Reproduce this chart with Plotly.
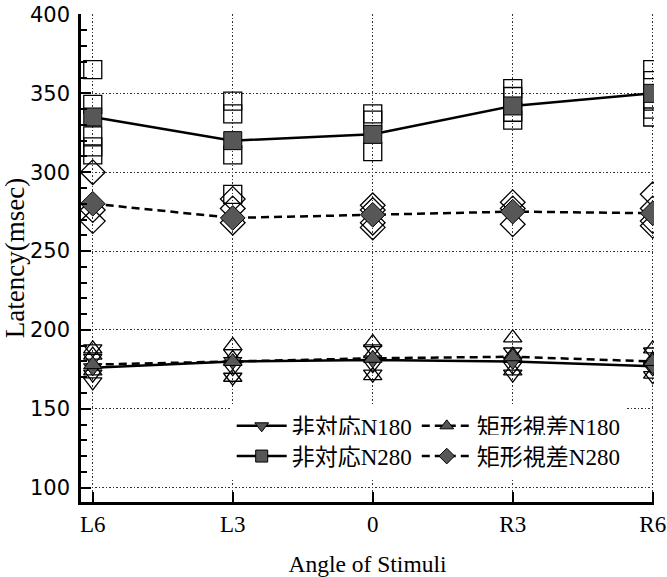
import plotly.graph_objects as go

# ---- data ----
categories = ["L6", "L3", "0", "R3", "R6"]

mean_hitaiou_n180 = [176, 180, 181, 180, 177]
mean_kukei_n180 = [178, 180, 182, 183, 180]
mean_hitaiou_n280 = [335, 320, 324, 342, 350]
mean_kukei_n280 = [280, 271, 273, 275, 274]

# individual (open) values per category
ind_hitaiou_n280 = [[365, 343, 323, 316, 311], [345, 337, 311, 286], [337, 333, 313],
                    [353, 348, 338, 333], [365, 358, 345, 340, 335]]
ind_kukei_n280 = [[300, 276, 269], [283, 277, 268], [279, 276, 268, 265],
                  [281, 277, 267], [286, 277, 269, 266]]
ind_hitaiou_n180 = [[188, 182, 172, 167], [185, 176, 170], [188, 178, 172],
                    [186, 177, 172], [186, 176, 171]]
ind_kukei_n180 = [[188, 184, 174], [190, 182, 170], [192, 185, 171],
                  [195, 184, 174], [188, 181, 172]]

names = ["非対応N180", "矩形視差N180", "非対応N280", "矩形視差N280"]
y_ticks = [100, 150, 200, 250, 300, 350, 400]

# ---- styles ----
FILL = "#575757"
SERIF = "Liberation Serif, Noto Sans CJK JP, serif"
DASH = "8px,5px"


def flatten(ind):
    xs, ys = [], []
    for c, vals in zip(categories, ind):
        for v in vals:
            xs.append(c)
            ys.append(v)
    return xs, ys


fig = go.Figure()

open_specs = [
    (ind_hitaiou_n280, "square-open", 18),
    (ind_kukei_n280, "diamond-open", 19),
    (ind_hitaiou_n180, "triangle-down-open", 16),
    (ind_kukei_n180, "triangle-up-open", 16),
]
for ind, sym, sz in open_specs:
    xs, ys = flatten(ind)
    fig.add_trace(go.Scatter(
        x=xs, y=ys, mode="markers", showlegend=False, hoverinfo="skip",
        marker=dict(symbol=sym, size=sz, color="black", line=dict(width=1.3, color="black")),
    ))

mean_specs = [
    (mean_hitaiou_n180, names[0], "triangle-down", "solid", 16),
    (mean_kukei_n180, names[1], "triangle-up", DASH, 16),
    (mean_hitaiou_n280, names[2], "square", "solid", 18),
    (mean_kukei_n280, names[3], "diamond", DASH, 19),
]
for vals, nm, sym, dash, sz in mean_specs:
    fig.add_trace(go.Scatter(
        x=categories, y=vals, mode="lines+markers", name=nm, showlegend=False,
        line=dict(color="black", width=2.5, dash=dash),
        marker=dict(symbol=sym, size=sz, color=FILL, line=dict(width=1, color="black")),
    ))

# legend entries: one legend box per entry, arranged 2 x 2
legend_ids = ["legend", "legend2", "legend3", "legend4"]
for (vals, nm, sym, dash, sz), lid in zip(mean_specs, legend_ids):
    fig.add_trace(go.Scatter(
        x=[None], y=[None], mode="lines+markers", name=nm, legend=lid,
        line=dict(color="black", width=2.5, dash=dash),
        marker=dict(symbol=sym, size=12, color=FILL, line=dict(width=1, color="black")),
    ))

col_x = [0.263, 0.586]
row_y = [0.156, 0.094]
legend_layouts = {}
for i, lid in enumerate(legend_ids):
    legend_layouts[lid] = dict(
        x=col_x[i % 2], y=row_y[i // 2], xanchor="left", yanchor="middle",
        bgcolor="white", itemwidth=50, borderwidth=0,
        font=dict(family=SERIF, size=23), itemsizing="trace",
    )

fig.update_layout(
    width=667, height=577,
    margin=dict(l=81, r=13, t=14, b=75),
    paper_bgcolor="white", plot_bgcolor="white",
    font=dict(family=SERIF, size=20, color="black"),
    xaxis=dict(
        type="category", categoryorder="array", categoryarray=categories,
        range=[-0.084, 4.009], automargin=False,
        showline=True, linecolor="black", linewidth=2.5,
        ticks="inside", ticklen=10, tickwidth=2, tickcolor="black",
        showgrid=True, gridcolor="#333", gridwidth=1, griddash="1.5px,2px",
        tickfont=dict(family=SERIF, size=23),
        title=dict(text="Angle of Stimuli", font=dict(family=SERIF, size=23.5), standoff=24),
        zeroline=False,
    ),
    yaxis=dict(
        range=[90.9, 400.3], automargin=False,
        tickvals=y_ticks,
        showline=True, linecolor="black", linewidth=2.5,
        ticks="inside", ticklen=10, tickwidth=2, tickcolor="black",
        minor=dict(ticks="inside", dtick=10, tick0=100, ticklen=6, tickwidth=1.5,
                   tickcolor="black", showgrid=False),
        showgrid=True, gridcolor="#333", gridwidth=1, griddash="1.5px,2px",
        tickfont=dict(family="DejaVu Sans, sans-serif", size=21),
        ticklabelstandoff=4,
        title=dict(text="Latency(msec)", font=dict(family=SERIF, size=27), standoff=6),
        zeroline=False,
    ),
    **legend_layouts,
)

fig.write_html("out.html")
